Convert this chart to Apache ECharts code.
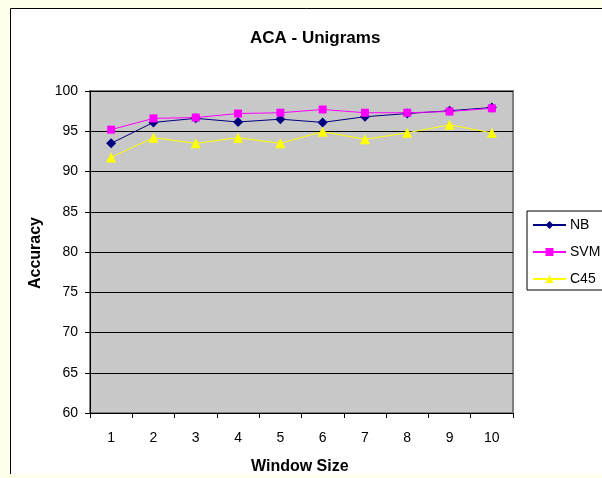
<!DOCTYPE html>
<html>
<head>
<meta charset="utf-8">
<script src="https://cdn.jsdelivr.net/npm/echarts@6/dist/echarts.min.js"></script>
<style>
  html, body { margin: 0; padding: 0; background: #FFFFEC; }
  #chart { width: 602px; height: 478px; }
</style>
</head>
<body>
<div id="chart"></div>
<script>
// Window sizes along the x axis
const windowSizes = ['1', '2', '3', '4', '5', '6', '7', '8', '9', '10'];

// Accuracy (%) per classifier
const nbAccuracy  = [93.5, 96.1, 96.6, 96.15, 96.5, 96.1, 96.8, 97.2, 97.55, 97.95];
const svmAccuracy = [95.2, 96.6, 96.7, 97.2, 97.3, 97.7, 97.3, 97.3, 97.45, 97.85];
const c45Accuracy = [91.75, 94.2, 93.5, 94.2, 93.5, 94.95, 94.0, 94.8, 95.8, 94.8];

const FONT = '"Liberation Sans", Arial, sans-serif';

const chart = echarts.init(document.getElementById('chart'), null, { renderer: 'canvas' });

function lineSeries(name, data, color, symbol, size) {
  return {
    name: name,
    type: 'line',
    data: data,
    symbol: symbol,
    symbolSize: size,
    showAllSymbol: true,
    lineStyle: { color: color, width: 1 },
    itemStyle: { color: color, borderWidth: 0 },
    emphasis: { disabled: true },
    animation: false
  };
}

chart.setOption({
  backgroundColor: '#FFFFEC',
  animation: false,
  textStyle: { fontFamily: FONT, color: '#000' },
  graphic: [
    // white chart panel with black top/left edges
    { type: 'rect', z: -10, shape: { x: 10, y: 8, width: 600, height: 466 },
      style: { fill: '#FFFFFF' } },
    { type: 'line', z: -9, shape: { x1: 10.5, y1: 8.5, x2: 610, y2: 8.5 },
      style: { stroke: '#000', lineWidth: 1 } },
    { type: 'line', z: -9, shape: { x1: 10.5, y1: 8.5, x2: 10.5, y2: 474 },
      style: { stroke: '#000', lineWidth: 1 } },
    { type: 'text', left: 251, top: 459,
      style: { text: 'Window Size', font: 'bold 16px ' + FONT, fill: '#000' } },
    { type: 'text', left: 28, top: 217, rotation: Math.PI / 2,
      style: { text: 'Accuracy', font: 'bold 16px ' + FONT, fill: '#000' } }
  ],
  title: {
    text: 'ACA - Unigrams',
    left: 245,
    top: 25,
    textStyle: { fontSize: 17, fontWeight: 'bold', fontFamily: FONT, color: '#000' }
  },
  legend: {
    orient: 'vertical',
    left: 527,
    top: 211,
    padding: [7, 6, 4, 5],
    backgroundColor: '#FFFFFF',
    borderColor: '#000',
    borderWidth: 1,
    borderRadius: 0,
    itemWidth: 33,
    itemHeight: 10,
    itemGap: 13,
    textStyle: { fontSize: 14, fontFamily: FONT, color: '#000', padding: [0, 0, 0, -1] },
    data: ['NB', 'SVM', 'C45']
  },
  grid: {
    left: 90,
    right: 89,
    top: 91,
    bottom: 65,
    show: true,
    backgroundColor: '#C8C8C8',
    borderColor: '#808080',
    borderWidth: 2
  },
  xAxis: {
    type: 'category',
    data: windowSizes,
    boundaryGap: true,
    axisLine: { lineStyle: { color: '#000', width: 1 } },
    axisTick: { show: true, inside: false, length: 5, lineStyle: { color: '#000' } },
    axisLabel: { fontSize: 14, color: '#000', margin: 18, fontFamily: FONT },
    splitLine: { show: false }
  },
  yAxis: {
    type: 'value',
    min: 60,
    max: 100,
    interval: 5,
    axisLine: { show: true, lineStyle: { color: '#000', width: 1 } },
    axisTick: { show: true, inside: false, length: 5, lineStyle: { color: '#000' } },
    axisLabel: { fontSize: 14, color: '#000', margin: 12, fontFamily: FONT },
    splitLine: { show: true, lineStyle: { color: '#000', width: 1 } }
  },
  series: [
    lineSeries('NB', nbAccuracy, '#000080', 'diamond', 10),
    lineSeries('SVM', svmAccuracy, '#FF00FF', 'rect', 8),
    lineSeries('C45', c45Accuracy, '#FFFF00', 'triangle', 10)
  ]
});
</script>
</body>
</html>
